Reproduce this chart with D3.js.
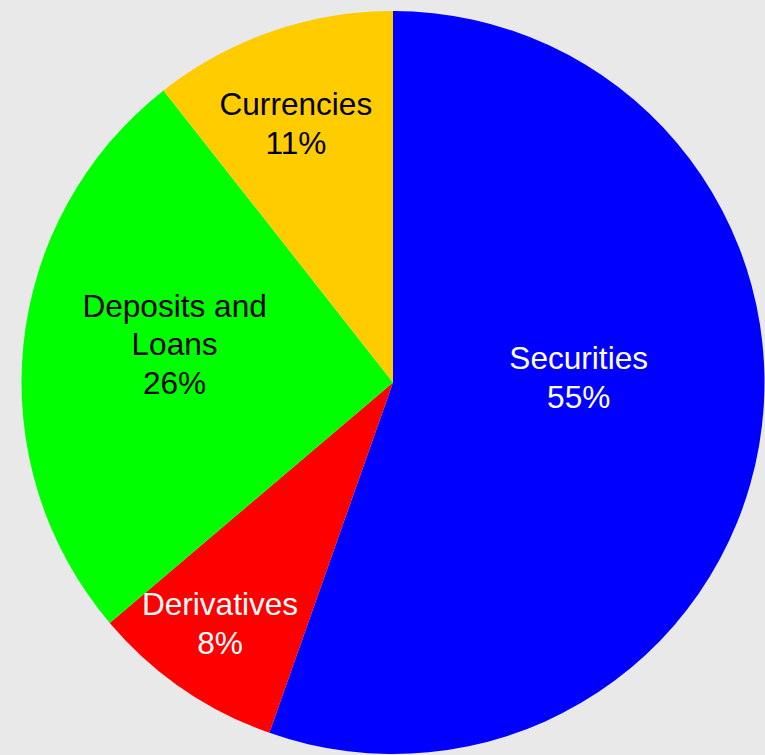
<!DOCTYPE html>
<html>
<head>
<meta charset="utf-8">
<script src="https://cdn.jsdelivr.net/npm/d3@7"></script>
<style>
  html, body { margin: 0; padding: 0; background: #e9e9e9; }
  svg { display: block; }
</style>
</head>
<body>
<script>
// Data (clockwise from 12 o'clock)
const categories = ["Securities", "Derivatives", "Deposits and Loans", "Currencies"];
const values = [55.4, 8.4, 25.6, 10.6];
const percentLabels = ["55%", "8%", "26%", "11%"];
const labelLines = [["Securities"], ["Derivatives"], ["Deposits and", "Loans"], ["Currencies"]];

// Styling / layout
const colors = ["#0000ff", "#ff0000", "#00ff00", "#ffcc00"];
const textColors = ["#ffffff", "#ffffff", "#000000", "#000000"];
// label anchor: angle (deg clockwise from top) and radius fraction
const labelAngle = [88.4, 215.7, 280.0, 339.45];
const labelRadius = [0.50, 0.798, 0.597, 0.745];

const W = 765, H = 755;
const cx = 393, cy = 382.5, R = 371.5;
const fontSize = 31.6, lineH = 38.8;

const svg = d3.select("body").append("svg").attr("width", W).attr("height", H);
svg.append("rect").attr("width", W).attr("height", H).attr("fill", "#e9e9e9");

const g = svg.append("g").attr("transform", `translate(${cx},${cy})`);

const pie = d3.pie().sort(null).value(d => d.value);
const data = categories.map((c, i) => ({ name: c, value: values[i], i }));
const arcs = pie(data);
const arc = d3.arc().innerRadius(0).outerRadius(R);

g.selectAll("path.slice").data(arcs).enter().append("path")
  .attr("class", "slice")
  .attr("d", arc)
  .attr("fill", d => colors[d.data.i]);

const labels = g.selectAll("g.lbl").data(arcs).enter().append("g")
  .attr("class", "lbl")
  .attr("transform", d => {
    const i = d.data.i;
    const a = labelAngle[i] * Math.PI / 180;
    const r = labelRadius[i] * R;
    return `translate(${r * Math.sin(a)},${-r * Math.cos(a)})`;
  });

labels.each(function(d) {
  const i = d.data.i;
  const lines = labelLines[i].concat([percentLabels[i]]);
  const n = lines.length;
  const capH = fontSize * 0.716;
  // block: from first cap top to last baseline, centered on anchor
  const blockH = capH + (n - 1) * lineH;
  const firstBase = -blockH / 2 + capH;
  const t = d3.select(this).append("text")
    .attr("text-anchor", "middle")
    .attr("font-family", "'Liberation Sans', Arial, sans-serif")
    .attr("font-size", fontSize)
    .attr("fill", textColors[i]);
  lines.forEach((ln, k) => {
    t.append("tspan").attr("x", 0).attr("y", firstBase + k * lineH).text(ln);
  });
});
</script>
</body>
</html>
